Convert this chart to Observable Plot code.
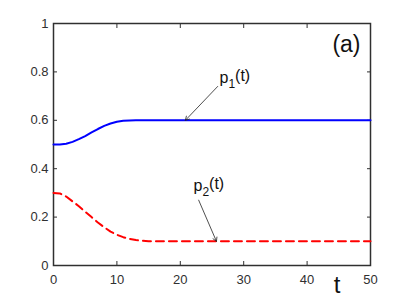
<!DOCTYPE html>
<html><head><meta charset="utf-8">
<script src="https://cdn.jsdelivr.net/npm/d3@7"></script>
<script src="https://cdn.jsdelivr.net/npm/@observablehq/plot@0.6"></script>
<style>body{margin:0;background:#fff;} svg{font-family:"Liberation Sans",Arial,sans-serif;}</style>
</head><body><div id="chart"></div>
<script>
const t1 = [0,1,2,3,4,5,6,7,8,9,10,11,12,13,15,20,30,40,50];
const p1 = [0.5,0.5,0.503,0.511,0.522,0.535,0.55,0.564,0.577,0.587,0.594,0.598,0.599,0.6,0.6,0.6,0.6,0.6,0.6];
const t2 = [0,1,2,3,4,5,6,7,8,9,10,11,12,13,14,15,20,30,40,50];
const p2 = [0.3,0.298,0.285,0.265,0.245,0.222,0.2,0.178,0.158,0.14,0.127,0.117,0.11,0.105,0.102,0.1,0.1,0.1,0.1,0.1];
const xTicks = [0,10,20,30,40,50];
const yTicks = [0,0.2,0.4,0.6,0.8,1];
const labels = [{x:28.6, y:0.775, name:"p", sub:"1"},{x:24.5, y:0.33, name:"p", sub:"2"}];
const arrows = [{x1:25.9,y1:0.74,x2:20.8,y2:0.6},{x1:22.9,y1:0.27,x2:25.7,y2:0.1}];
const s1 = t1.map((t,i)=>({t, v:p1[i]}));
const s2 = t2.map((t,i)=>({t, v:p2[i]}));
const tc = "#303030";
const none = () => "";
const chart = Plot.plot({
  width:409, height:298,
  marginLeft:53, marginRight:39, marginTop:23, marginBottom:33,
  x:{domain:[0,50]}, y:{domain:[0,1]},
  style:{fontSize:"13px", color:tc, background:"#fff"},
  marks:[
    Plot.axisX({ticks:xTicks, tickSize:0, tickPadding:9, label:null, fill:tc}),
    Plot.axisY({ticks:yTicks, tickSize:0, tickPadding:5, label:null, tickFormat:d=>String(d), fill:tc}),
    Plot.axisX({anchor:"bottom", ticks:xTicks, tickSize:4, dy:-4, tickFormat:none, label:null, stroke:tc}),
    Plot.axisX({anchor:"top", ticks:xTicks, tickSize:4, dy:4, tickFormat:none, label:null, stroke:tc}),
    Plot.axisY({anchor:"left", ticks:yTicks, tickSize:4, dx:4, tickFormat:none, label:null, stroke:tc}),
    Plot.axisY({anchor:"right", ticks:yTicks, tickSize:4, dx:-4, tickFormat:none, label:null, stroke:tc}),
    Plot.frame({stroke:tc, strokeWidth:1.5}),
    Plot.line(s1, {x:"t", y:"v", stroke:"#0000ff", strokeWidth:2}),
    Plot.line(s2, {x:"t", y:"v", stroke:"#ff0000", strokeWidth:2, strokeDasharray:"8,5"}),
    Plot.arrow(arrows, {x1:"x1", y1:"y1", x2:"x2", y2:"y2", stroke:"#222", strokeWidth:0.8, headLength:8}),
    Plot.text(labels, {x:"x", y:"y", text:d=>d.name+d.sub+"(t)", fontSize:16, fill:"#111", className:"plab"}),
    Plot.text(["(a)"], {frameAnchor:"top-right", dx:-10, dy:12, fontSize:23, fill:"#111"}),
    Plot.text(["t"], {frameAnchor:"bottom-right", dx:-30, dy:27, fontSize:24, fill:"#111"})
  ]
});
document.getElementById("chart").appendChild(chart);
d3.select(chart).selectAll("g.plab text").each(function(d){
  const L = labels[d];
  const el = d3.select(this); el.text(null);
  el.append("tspan").text(L.name);
  el.append("tspan").attr("dy","0.4em").attr("font-size","12px").text(L.sub);
  el.append("tspan").attr("dy","-0.4em").text("(t)");
});
</script></body></html>
